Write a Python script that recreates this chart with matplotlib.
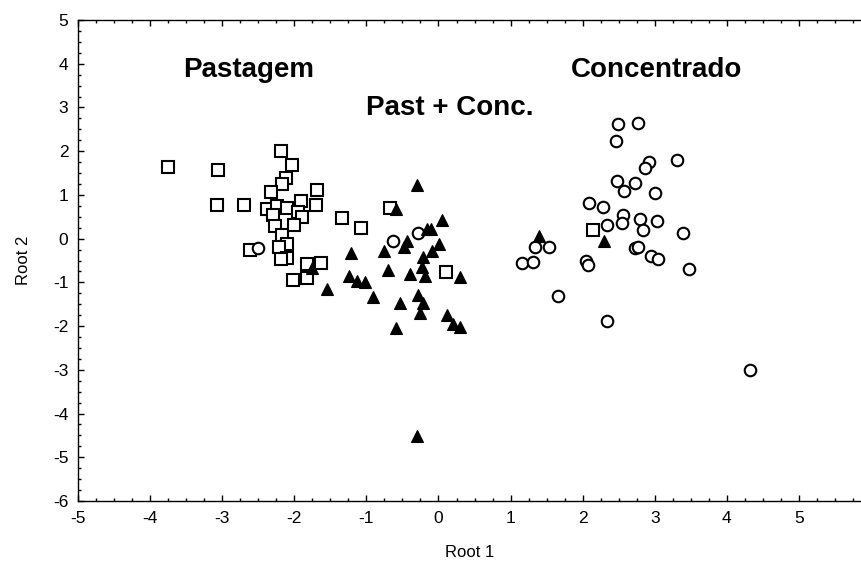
import matplotlib
matplotlib.use("Agg")
import matplotlib.pyplot as plt
from matplotlib.ticker import MultipleLocator

plt.rcParams['font.family'] = ['Liberation Sans', 'DejaVu Sans']
plt.rcParams['axes.unicode_minus'] = False

# Discriminant scores (Root 1, Root 2) by feeding group
pastagem_x = [-3.756, -3.054, -2.180, -2.032, -2.119, -2.166, -2.327, -1.685,
              -3.072, -2.702, -2.383, -2.244, -2.105, -1.907, -1.703, -1.953,
              -2.300, -1.889, -2.263, -2.004, -1.338, -1.071, -2.175, -2.614,
              -2.105, -2.208, -2.105, -2.189, -1.828, -1.630, -2.014, -1.828,
              -0.673, 0.108, 2.147]
pastagem_y = [1.643, 1.574, 1.995, 1.675, 1.378, 1.240, 1.057, 1.117,
              0.767, 0.774, 0.668, 0.744, 0.705, 0.865, 0.767, 0.606,
              0.545, 0.485, 0.286, 0.309, 0.476, 0.247, 0.080, -0.263,
              -0.133, -0.188, -0.453, -0.469, -0.590, -0.567, -0.943, -0.911,
              0.705, -0.767, 0.195]

past_conc_x = [-0.298, -0.594, 0.044, -0.164, -0.100, -0.441, -0.474, 0.011,
               -0.752, -0.094, -0.211, -0.225, -1.214, -0.705, -0.395, -0.187,
               0.298, -1.759, -1.237, -1.135, -1.019, -1.542, -0.904, -0.280,
               -0.534, -0.219, -0.257, 0.122, 0.197, 0.298, -0.589, -0.298,
               1.394, 2.295]
past_conc_y = [1.224, 0.668, 0.423, 0.211, 0.211, -0.057, -0.201, -0.126,
               -0.279, -0.279, -0.416, -0.659, -0.325, -0.721, -0.812, -0.851,
               -0.888, -0.682, -0.858, -0.966, -0.989, -1.156, -1.332, -1.293,
               -1.469, -1.483, -1.712, -1.751, -1.941, -2.032, -2.041, -4.519,
               0.064, -0.057]

concentrado_x = [-2.499, -0.635, -0.280, 2.494, 2.763, 2.466, 2.920, 2.864,
                 3.304, 2.471, 2.725, 2.573, 3.003, 2.083, 2.282, 2.555,
                 2.541, 2.795, 3.026, 2.840, 2.341, 3.387, 1.343, 1.537,
                 2.725, 2.771, 2.943, 3.040, 3.478, 1.154, 1.315, 2.042,
                 2.073, 1.657, 2.333, 4.320]
concentrado_y = [-0.224, -0.050, 0.119, 2.613, 2.650, 2.238, 1.757, 1.620,
                 1.789, 1.323, 1.270, 1.087, 1.048, 0.805, 0.714, 0.538,
                 0.362, 0.439, 0.400, 0.195, 0.302, 0.133, -0.195, -0.195,
                 -0.211, -0.188, -0.394, -0.476, -0.705, -0.554, -0.545, -0.508,
                 -0.606, -1.309, -1.888, -3.009]

group_labels = ["Pastagem", "Past + Conc.", "Concentrado"]
label_x = [-2.64, 0.15, 3.03]
label_y = [3.86, 2.99, 3.86]

W, H = 861, 562
fig = plt.figure(figsize=(W / 100, H / 100), dpi=100)
ax = fig.add_axes([78 / W, 1 - 501 / H, (W - 78) / W, (501 - 20) / H])

ms = 8.3
mew = 1.5
ax.plot(pastagem_x, pastagem_y, linestyle='none', marker='s', markersize=ms,
        markerfacecolor='white', markeredgecolor='black', markeredgewidth=mew)
ax.plot(concentrado_x, concentrado_y, linestyle='none', marker='o', markersize=ms,
        markerfacecolor='white', markeredgecolor='black', markeredgewidth=mew)
ax.plot(past_conc_x, past_conc_y, linestyle='none', marker='^', markersize=ms + 0.5,
        markerfacecolor='black', markeredgecolor='black', markeredgewidth=0.8)

for t, x, y in zip(group_labels, label_x, label_y):
    ax.text(x, y, t, fontsize=20, fontweight='bold', ha='center', va='center')

ax.set_xlim(-5, 5.86)
ax.set_ylim(-6, 5)
ax.xaxis.set_major_locator(MultipleLocator(1))
ax.xaxis.set_minor_locator(MultipleLocator(0.25))
ax.yaxis.set_major_locator(MultipleLocator(1))
ax.yaxis.set_minor_locator(MultipleLocator(0.25))
ax.tick_params(which='both', direction='in', top=True, right=False,
               labelsize=12.5, width=1.0)
ax.tick_params(which='major', length=4, pad=7)
ax.tick_params(which='minor', length=2.5)
ax.spines['right'].set_visible(False)
for s in ('left', 'bottom', 'top'):
    ax.spines[s].set_linewidth(1.0)

ax.set_xlabel("Root 1", fontsize=12, labelpad=14)
ax.set_ylabel("Root 2", fontsize=12, labelpad=16)

fig.savefig("out.png", dpi=100)
